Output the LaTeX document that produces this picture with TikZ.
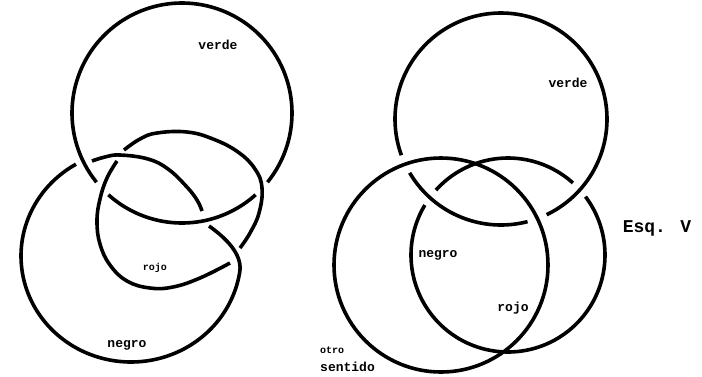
\documentclass[tikz,border=0pt]{standalone}
\usepackage{fontspec}
\newfontfamily\lblfont{Liberation Mono}
\begin{document}
\begin{tikzpicture}[x=1pt,y=-1pt,
  ring/.style={line width=3.6pt, line join=round},
  lbl/.style={font=\lblfont\bfseries\fontsize{13pt}{13pt}\selectfont, inner sep=0pt},
  lblsmall/.style={font=\lblfont\bfseries\fontsize{10pt}{10pt}\selectfont, inner sep=0pt},
  lblbig/.style={font=\lblfont\bfseries\fontsize{18pt}{18pt}\selectfont, inner sep=0pt}]
\fill[white] (0,0) rectangle (702,376);
\useasboundingbox (0,0) rectangle (702,376);

% ---------- left figure ----------
% verde
\draw[ring] plot[domain=132:48, samples=50, variable=\t] ({182+110*cos(\t)},{113+110*sin(\t)});
\draw[ring] plot[domain=141:399, samples=140, variable=\t] ({182+110*cos(\t)},{113+110*sin(\t)});
% rojo
\draw[ring] plot[smooth, tension=0.7] coordinates {(124,150) (140,139) (157,133) (187,132) (213,139) (238,152) (255,169) (262,188) (259,213) (250,233) (240,248)};
\draw[ring] plot[smooth, tension=0.7] coordinates {(230,263) (200,278) (173,287) (150,288) (127,281) (110,265) (100,244) (97,221) (100,199) (107,178) (117,161)};
% negro
\draw[ring] (209,226) .. controls (226,238) and (242,254) .. (239.9,270.8)
   -- plot[domain=8:240, samples=120, variable=\t] ({131+110*cos(\t)},{256+106*sin(\t)});
\draw[ring] plot[smooth, tension=0.7] coordinates {(92,161) (105,157) (120,155) (148,159) (168,169) (186,186) (197,200) (202,211)};

\node[lbl] (vL) at (218,45) {verde};
\node[lblsmall] (rL) at (155,268) {rojo};
\node[lbl] (nL) at (127,345) {negro};

% ---------- right figure ----------
% verde
\draw[ring] plot[domain=149.5:75.5, samples=50, variable=\t] ({501+106*cos(\t)},{119+106*sin(\t)});
\draw[ring] plot[domain=160:424.5, samples=140, variable=\t] ({501+106*cos(\t)},{119+106*sin(\t)});
% rojo
\draw[ring] plot[domain=222:312, samples=50, variable=\t] ({508+97*cos(\t)},{255+97*sin(\t)});
\draw[ring] plot[domain=323:571, samples=140, variable=\t] ({508+97*cos(\t)},{255+97*sin(\t)});
% negro
\draw[ring] (441,265) circle[radius=107pt];

\node[lbl] (vR) at (568,83) {verde};
\node[lbl] (nR) at (438,255) {negro};
\node[lbl] (rR) at (513,308) {rojo};
\node[lblsmall, anchor=west] (oR) at (320,350) {otro};
\node[lbl, anchor=west] (sR) at (320,367) {sentido};
\node[lblbig] (esq) at (657,228) {Esq. V};
\end{tikzpicture}
\end{document}
